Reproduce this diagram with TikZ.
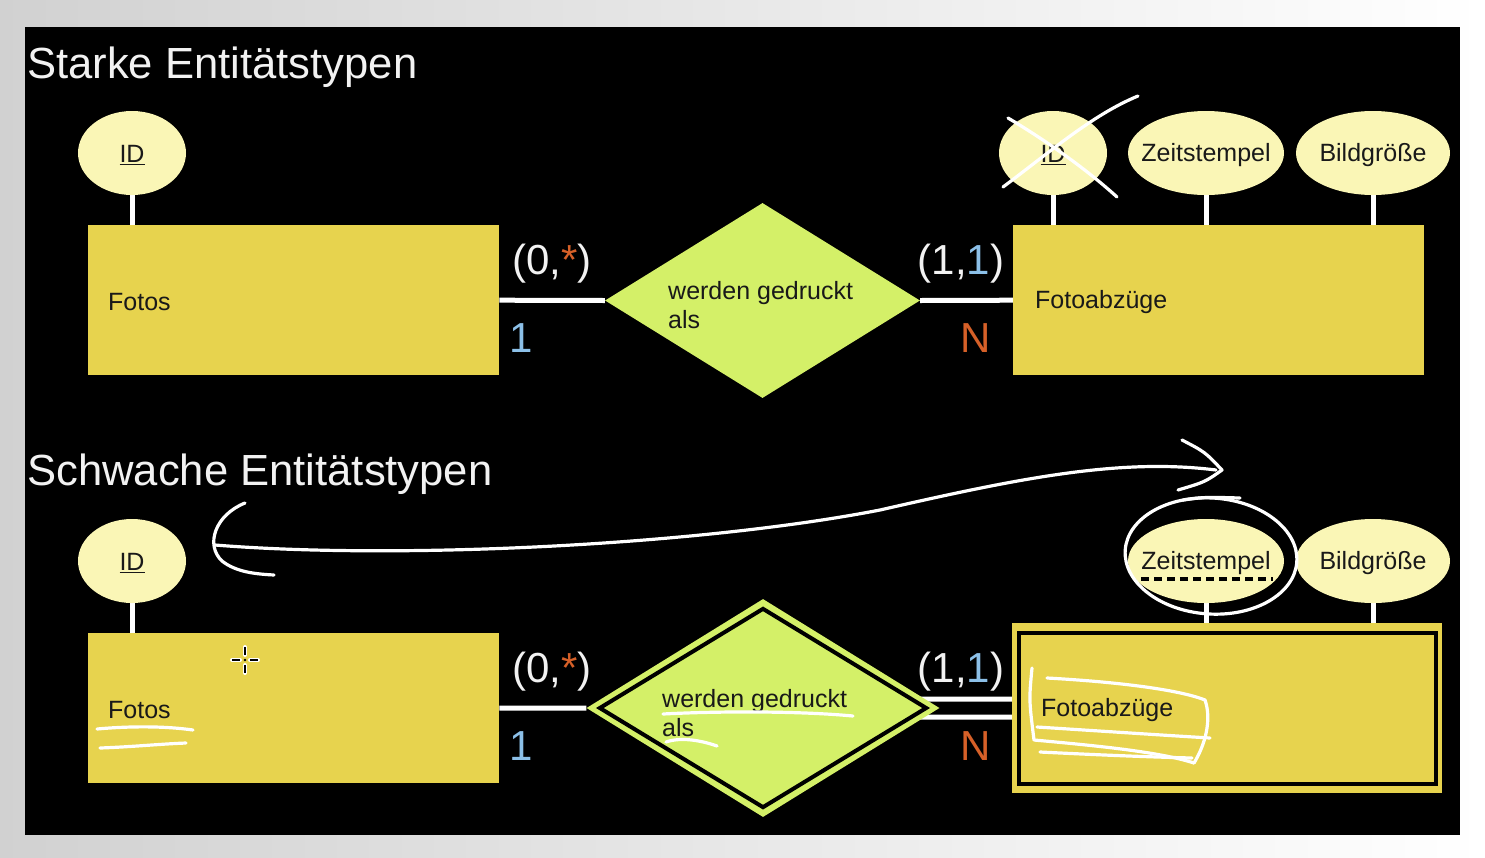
\documentclass[tikz,border=0pt]{standalone}
\usepackage{fontspec}
\setmainfont{Liberation Sans}
\usetikzlibrary{shapes.geometric,calc}
\definecolor{ellfill}{RGB}{250,246,182}
\definecolor{entfill}{RGB}{231,211,78}
\definecolor{relfill}{RGB}{212,240,104}
\definecolor{cblue}{RGB}{140,192,232}
\definecolor{corange}{RGB}{214,96,40}
\definecolor{txtw}{RGB}{242,242,242}
\definecolor{txtd}{RGB}{25,25,25}
\pgfdeclarelayer{back}
\pgfdeclarelayer{links}
\pgfsetlayers{back,links,main}
\begin{document}
\begin{tikzpicture}[x=1pt,y=-1pt,
  lbl/.style={font=\fontsize{25}{29}\selectfont, text=txtd, inner sep=0pt},
  attr/.style={ellipse, fill=ellfill, minimum width=108pt, minimum height=84pt, inner sep=0pt},
  wattr/.style={attr, minimum width=156pt},
  entity/.style={rectangle, fill=entfill, minimum width=411pt, minimum height=150pt, inner sep=0pt},
  rel/.style={diamond, fill=relfill, inner sep=0pt, minimum width=315pt, minimum height=195pt},
  title/.style={font=\fontsize{43.6}{50}\selectfont, text=txtw, inner sep=0pt},
  card/.style={font=\fontsize{42}{48}\selectfont, text=txtw, inner sep=0pt},
  link/.style={draw=white, line width=5pt},
  hand/.style={draw=white, line width=3.2pt, line cap=round, line join=round},
]
\useasboundingbox (0,0) rectangle (1485,857);
\begin{pgfonlayer}{back}
  \shade[left color=black!18, right color=white] (0,0) rectangle (1485,857);
  \fill[black] (25,27) rectangle (1460,835);
\end{pgfonlayer}

% titles
\node[title, anchor=base west] (t1) at (27,78) {Starke Entitätstypen};
\node[title, anchor=base west] (t2) at (27,485) {Schwache Entitätstypen};

% ---------- top: strong entity types ----------
\node[entity, anchor=north west] (fotos1) at (88,225) {};
\node[lbl, anchor=west] (fotos1t) at ($(fotos1.west)+(20,2)$) {Fotos};
\node[entity, anchor=north west] (abz1) at (1013,225) {};
\node[lbl, anchor=west] (abz1t) at ($(abz1.west)+(22,2)$) {Fotoabzüge};
\node[attr] (id1) at (132,153) {};
\node[lbl] (id1t) at ($(id1.center)+(0,2)$) {\underline{ID}};
\node[attr] (id1b) at (1053,153) {};
\node[lbl] (id1bt) at ($(id1b.center)+(0,2)$) {\underline{ID}};
\node[wattr] (zs1) at (1206,153) {};
\node[lbl] (zs1t) at ($(zs1.center)+(0,2)$) {Zeitstempel};
\node[wattr, minimum width=154pt] (bg1) at (1373,153) {};
\node[lbl] (bg1t) at ($(bg1.center)+(0,2)$) {Bildgröße};
\node[rel] (rel1) at (762.5,300.5) {};
\node[lbl, align=left, anchor=west] (rel1t) at (668,305) {werden gedruckt\\als};

\node[card] (c1a) at (552,264) {(0,{\color{corange}*})};
\node[card, text=cblue] (c1b) at (521,338) {1};
\node[card] (c1c) at (961,264) {(1,{\color{cblue}1})};
\node[card, text=corange] (c1d) at (976,338) {N};

\begin{pgfonlayer}{links}
  \draw[link] (id1.center) -- (id1.center |- fotos1.north);
  \draw[link] (id1b.center) -- (id1b.center |- abz1.north);
  \draw[link] (zs1.center) -- (zs1.center |- abz1.north);
  \draw[link] (bg1.center) -- (bg1.center |- abz1.north);
  \draw[link] (fotos1.east) -- (rel1.west);
  \draw[link] (rel1.east) -- (abz1.west);
\end{pgfonlayer}

% cross over the ID
\draw[hand] (1008,118) .. controls (1045,140) and (1085,168) .. (1117,197);
\draw[hand] (1003,187) .. controls (1050,152) and (1092,115) .. (1138,96);

% ---------- bottom: weak entity types ----------
\node[entity, anchor=north west] (fotos2) at (88,633) {};
\node[lbl, anchor=west] (fotos2t) at ($(fotos2.west)+(20,2)$) {Fotos};
\node[attr] (id2) at (132,561) {};
\node[lbl] (id2t) at ($(id2.center)+(0,2)$) {\underline{ID}};

\node[rectangle, fill=entfill, minimum width=430pt, minimum height=170pt, inner sep=0pt, anchor=north west] (abz2) at (1012,623) {};
\node[rectangle, draw=black, line width=4pt, minimum width=417pt, minimum height=151pt, inner sep=0pt] (abz2in) at (abz2.center) {};
\node[lbl, anchor=west] (abz2t) at ($(abz2.west)+(29,2)$) {Fotoabzüge};
\node[wattr] (zs2) at (1206,561) {};
\node[lbl] (zs2t) at ($(zs2.center)+(0,2)$) {Zeitstempel};
\node[wattr, minimum width=154pt] (bg2) at (1373,561) {};
\node[lbl] (bg2t) at ($(bg2.center)+(0,2)$) {Bildgröße};

\node[rel, minimum width=353pt, minimum height=218pt] (rel2out) at (763,708) {};
\node[diamond, fill=relfill, draw=black, line width=4pt, inner sep=0pt, minimum width=328pt, minimum height=200pt] (rel2) at (763,708) {};
\node[lbl, align=left, anchor=west] (rel2t) at (662,713) {werden gedruckt\\als};

\node[card] (c2a) at (552,672) {(0,{\color{corange}*})};
\node[card, text=cblue] (c2b) at (521,746) {1};
\node[card] (c2c) at (961,672) {(1,{\color{cblue}1})};
\node[card, text=corange] (c2d) at (976,746) {N};

\begin{pgfonlayer}{links}
  \draw[link] (id2.center) -- (id2.center |- fotos2.north);
  \draw[link] (zs2.center) -- (zs2.center |- abz2.north);
  \draw[link] (bg2.center) -- (bg2.center |- abz2.north);
  \draw[link] (fotos2.east) -- (rel2out.west);
  \draw[link] ([yshift=9pt]abz2.west) -- ([yshift=9pt]rel2out.center);
  \draw[link] ([yshift=-9pt]abz2.west) -- ([yshift=-9pt]rel2out.center);
\end{pgfonlayer}

% dashed partial key
\draw[black, line width=3.2pt, dash pattern=on 8pt off 5pt] (1141,579) -- (1273,579);

% hand-drawn marks
\draw[hand] (1216,470) .. controls (1120,458) and (1020,478) .. (880,510)
            .. controls (700,545) and (400,560) .. (215,545);
\draw[hand] (1182,440) .. controls (1205,452) .. (1222,470) .. controls (1205,482) .. (1178,490);
\draw[hand] (245,503) .. controls (215,515) and (205,545) .. (222,561)
            .. controls (236,572) and (255,574) .. (274,575);
\draw[hand, rotate around={-4:(1211,556)}] (1211,556) ellipse [x radius=86, y radius=58];
\draw[hand] (1183,500) .. controls (1205,497) .. (1240,498);

\draw[hand] (97,729) .. controls (130,726) and (165,726) .. (193,730);
\draw[hand] (100,748) .. controls (130,747) and (160,744) .. (186,743);

\draw[hand] (663,714) .. controls (720,711) and (800,711) .. (853,716);
\draw[hand] (666,742) .. controls (680,737) and (700,740) .. (717,746);

\draw[hand] (1032,668) .. controls (1029,700) .. (1034,740)
            .. controls (1100,746) and (1160,752) .. (1194,763);
\draw[hand] (1047,678) .. controls (1120,682) and (1180,690) .. (1205,700)
            .. controls (1212,720) and (1205,745) .. (1194,763);
\draw[hand] (1037,727) .. controls (1100,731) and (1160,735) .. (1210,738);
\draw[hand] (1040,752) .. controls (1100,755) and (1150,757) .. (1192,758);

% cursor
\foreach \a/\b in {{245,647}/{245,655},{245,665}/{245,673},{232,660}/{240,660},{250,660}/{258,660}}{
  \draw[white, line width=4pt, line cap=round] (\a) -- (\b);
  \draw[black, line width=1.8pt] (\a) -- (\b);
}
\fill[black] (245,660) circle (1.3);
\end{tikzpicture}
\end{document}
